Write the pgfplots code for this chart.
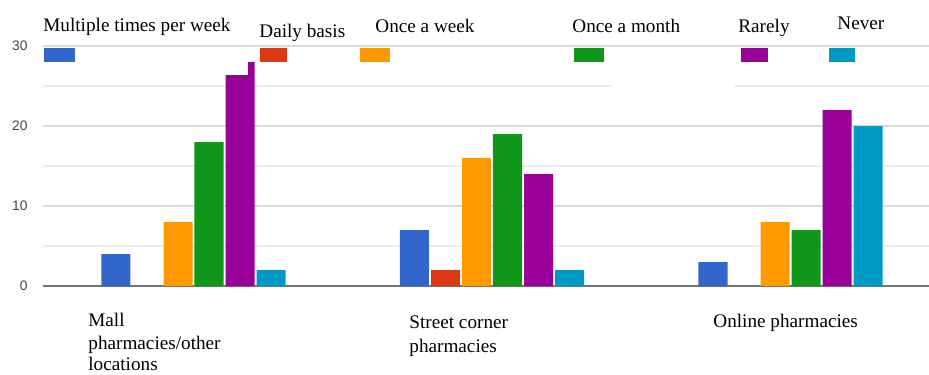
\documentclass[border=0pt]{standalone}
\usepackage{fontspec}
\setmainfont{Liberation Serif}
\setsansfont{Liberation Sans}
\usepackage{pgfplots}
\pgfplotsset{compat=1.18}
\definecolor{cA}{HTML}{3366CC}
\definecolor{cB}{HTML}{DC3912}
\definecolor{cC}{HTML}{FF9900}
\definecolor{cD}{HTML}{109618}
\definecolor{cE}{HTML}{990099}
\definecolor{cF}{HTML}{0099C6}
\definecolor{tick}{HTML}{444444}
\begin{document}
\begin{tikzpicture}
\path[use as bounding box] (-21.5pt,-44pt) rectangle (443pt,143pt);
\begin{axis}[
  at={(0,0)}, anchor=south west,
  scale only axis, width=443pt, height=120pt,
  xmin=-0.5042, xmax=2.464, ymin=0, ymax=30,
  axis lines*=left,
  y axis line style={draw=none},
  x axis line style={-, draw=black!55, line width=1.1pt},
  xtick=\empty,
  ytick={0,10,20,30}, minor ytick={5,15,25},
  major tick length=0pt, minor tick length=0pt,
  ymajorgrids, yminorgrids,
  major grid style={draw=black!14, line width=0.8pt},
  minor grid style={draw=black!7, line width=0.8pt},
  /pgf/number format/assume math mode=true,
  yticklabel style={font=\sffamily\fontsize{6.9}{8}\selectfont, text=tick, inner sep=0pt, anchor=east, xshift=-7.5pt},
  clip=false,
]
\addplot[ybar, bar width=0.0972, bar shift=-0.2597, fill=cA, draw=none] coordinates {(0,4) (1,7) (2,3)};
% Daily basis: 0 for Mall and Online pharmacies
\addplot[ybar, bar width=0.0972, bar shift=-0.1558, fill=cB, draw=none] coordinates {(1,2)};
\addplot[ybar, bar width=0.0972, bar shift=-0.0519, fill=cC, draw=none] coordinates {(0,8) (1,16) (2,8)};
\addplot[ybar, bar width=0.0972, bar shift=0.0519, fill=cD, draw=none] coordinates {(0,18) (1,19) (2,7)};
\addplot[ybar, bar width=0.0972, bar shift=0.1558, fill=cE, draw=none] coordinates {(0,28) (1,14) (2,22)};
\addplot[ybar, bar width=0.0972, bar shift=0.2597, fill=cF, draw=none] coordinates {(0,2) (1,2) (2,20)};
\end{axis}
% white patches of the pasted legend
\fill[white] (90.5pt,105.5pt) rectangle (102.5pt,116pt);
\fill[white] (284.5pt,99pt) rectangle (345.5pt,101.8pt);
% legend
\fill[cA] (0.5pt,112pt) rectangle (16pt,119pt);
\fill[cB] (108.5pt,112pt) rectangle (122pt,119pt);
\fill[cC] (158.5pt,112pt) rectangle (173.5pt,119pt);
\fill[cD] (265.5pt,112pt) rectangle (280.5pt,119pt);
\fill[cE] (349pt,112pt) rectangle (362.5pt,119pt);
\fill[cF] (393pt,112pt) rectangle (406pt,119pt);
\begin{scope}[every node/.style={inner sep=0pt, anchor=base west, font=\fontsize{9.6}{12}\selectfont}]
\node at (0pt,127pt) {Multiple times per week};
\node at (108pt,124pt) {Daily basis};
\node at (166pt,126.5pt) {Once a week};
\node at (264.5pt,126.5pt) {Once a month};
\node at (347.5pt,126.5pt) {Rarely};
\node at (397pt,128pt) {Never};
% category labels
\node at (22.5pt,-20pt) {Mall};
\node at (22.5pt,-31.5pt) {pharmacies/other};
\node at (22.5pt,-42.3pt) {locations};
\node at (183pt,-21pt) {Street corner};
\node at (183pt,-33pt) {pharmacies};
\node at (335pt,-20.5pt) {Online pharmacies};
\end{scope}
\end{tikzpicture}
\end{document}
